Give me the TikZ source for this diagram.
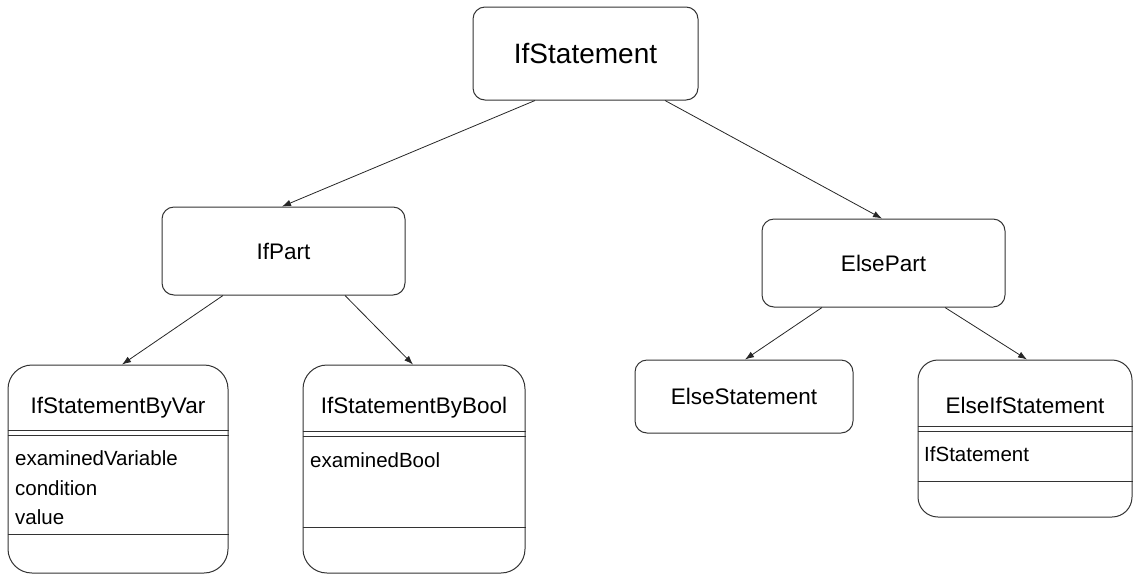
\documentclass[tikz,border=0pt]{standalone}
\usepackage{fontspec}
\setmainfont{Liberation Sans}
\usetikzlibrary{arrows.meta}
\begin{document}
\begin{tikzpicture}[x=1pt,y=-1pt,
  box/.style={draw=black!80, line width=1pt, inner sep=0pt, rounded corners=12pt},
  classbox/.style={draw=black!80, line width=1pt, inner sep=0pt, rounded corners=24pt},
  attr/.style={anchor=west, inner sep=0pt, font=\fontsize{20.5}{24}\selectfont},
  ctitle/.style={inner sep=0pt, font=\fontsize{22.5}{26}\selectfont},
  sep/.style={draw=black!80, line width=0.9pt},
  arr/.style={draw=black!85, line width=0.8pt, -{Latex[length=9pt,width=6.5pt]}}]
\useasboundingbox (0,0) rectangle (1134,574);

% upper tree
\node[box, minimum width=225pt, minimum height=93pt, font=\fontsize{28}{32}\selectfont] (top) at (585.5,53.5) {IfStatement};
\node[box, minimum width=243pt, minimum height=88pt, font=\fontsize{22.5}{26}\selectfont] (ifpart) at (283.5,251) {IfPart};
\node[box, minimum width=243pt, minimum height=88pt, font=\fontsize{22.5}{26}\selectfont] (elsepart) at (883.5,263) {ElsePart};

% class boxes
\node[classbox, minimum width=220pt, minimum height=208pt] (byvar) at (118,469) {};
\node[ctitle] (byvarT) at (118,408) {IfStatementByVar};
\draw[sep] ([yshift=-66pt]byvar.north west) -- ([yshift=-66pt]byvar.north east);
\draw[sep] ([yshift=-71pt]byvar.north west) -- ([yshift=-71pt]byvar.north east);
\node[attr] (byvarA) at (15,458) {examinedVariable};
\node[attr] (byvarB) at (15,488) {condition};
\node[attr] (byvarC) at (15,517) {value};
\draw[sep] ([yshift=39pt]byvar.south west) -- ([yshift=39pt]byvar.south east);

\node[classbox, minimum width=222pt, minimum height=208pt] (bybool) at (414,469) {};
\node[ctitle] (byboolT) at (414,408) {IfStatementByBool};
\draw[sep] ([yshift=-67pt]bybool.north west) -- ([yshift=-67pt]bybool.north east);
\draw[sep] ([yshift=-72pt]bybool.north west) -- ([yshift=-72pt]bybool.north east);
\node[attr] (byboolA) at (310,460) {examinedBool};
\draw[sep] ([yshift=46pt]bybool.south west) -- ([yshift=46pt]bybool.south east);

\node[box, minimum width=218pt, minimum height=73pt, font=\fontsize{22.5}{26}\selectfont] (elsestmt) at (744,396.5) {ElseStatement};

\node[classbox, rounded corners=20pt, minimum width=214pt, minimum height=157pt] (elseif) at (1025,438.5) {};
\node[ctitle] (elseifT) at (1025,405) {ElseIfStatement};
\draw[sep] ([yshift=-67pt]elseif.north west) -- ([yshift=-67pt]elseif.north east);
\draw[sep] ([yshift=-72pt]elseif.north west) -- ([yshift=-72pt]elseif.north east);
\node[attr] (elseifA) at (924,454) {IfStatement};
\draw[sep] ([yshift=36pt]elseif.south west) -- ([yshift=36pt]elseif.south east);

% connectors
\draw[arr] ([xshift=-50.5pt]top.south) -- ([xshift=-1.5pt]ifpart.north);
\draw[arr] ([xshift=79.5pt]top.south) -- ([xshift=-1.5pt]elsepart.north);
\draw[arr] ([xshift=-60.5pt]ifpart.south) -- ([xshift=4pt]byvar.north);
\draw[arr] ([xshift=61.5pt]ifpart.south) -- ([xshift=-1pt]bybool.north);
\draw[arr] ([xshift=-61.5pt]elsepart.south) -- ([xshift=1pt]elsestmt.north);
\draw[arr] ([xshift=61.5pt]elsepart.south) -- ([xshift=2pt]elseif.north);
\end{tikzpicture}
\end{document}
